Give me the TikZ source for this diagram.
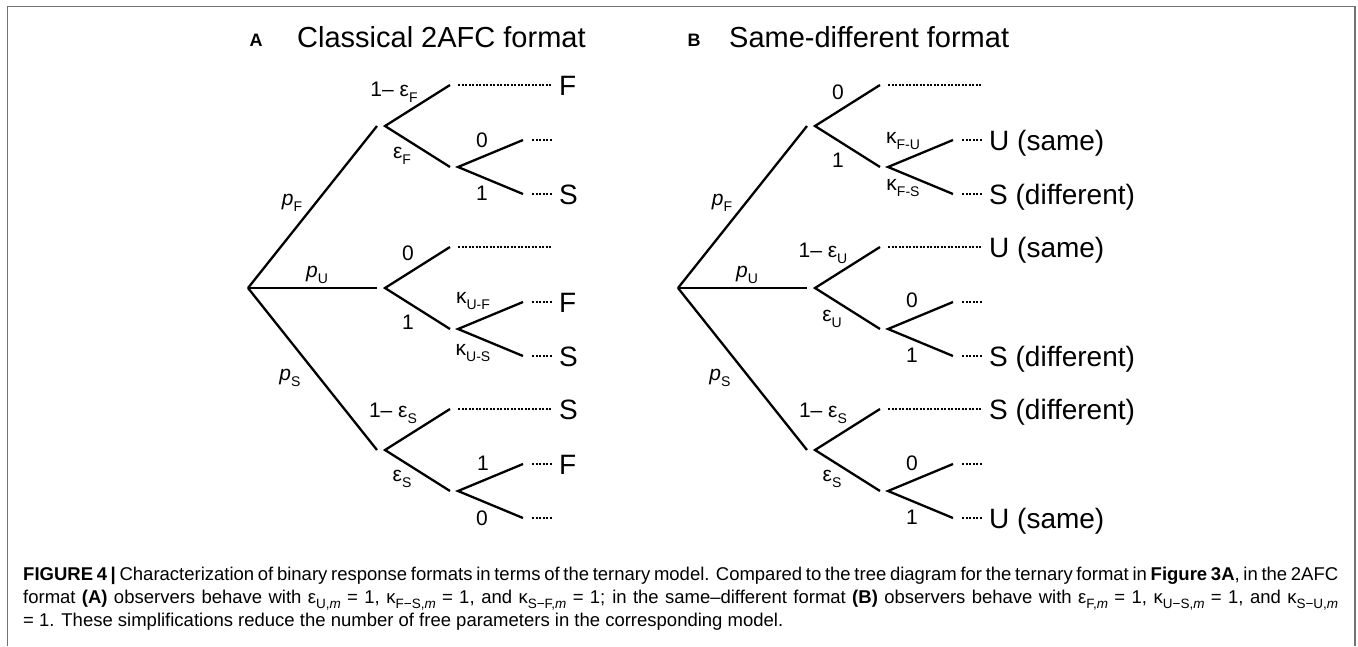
\documentclass[tikz,border=0pt]{standalone}
\usepackage{fontspec}
\setmainfont{Liberation Sans}
\newfontfamily\capfont{Liberation Sans}
\usetikzlibrary{calc}
\newcommand{\tsub}[1]{\raisebox{-0.3em}{\fontsize{14}{14}\selectfont #1}}
\newcommand{\csub}[1]{\raisebox{-0.3em}{\fontsize{13.5}{13.5}\selectfont #1}}
\tikzset{
  br/.style={line width=2.3pt},
  dotline/.style={line width=1.3pt, dash pattern=on 2pt off 1.5pt},
  leaf/.style={anchor=base west, inner sep=0pt, font=\fontsize{28}{28}\selectfont},
  elab/.style={inner sep=0pt, font=\fontsize{21}{21}\selectfont},
  ttl/.style={anchor=base west, inner sep=0pt, font=\fontsize{29}{29}\selectfont},
  pan/.style={inner sep=0pt, font=\bfseries\fontsize{18}{18}\selectfont},
  framestyle/.style={draw=black!55, line width=1.5pt},
  captxt/.style={anchor=base west, inner sep=0pt, font=\capfont\fontsize{18.5}{18.5}\selectfont},
}
\newcommand{\skel}[2]{%
  \coordinate (#1R) at (248+#2,288);
  \foreach \n/\yy in {T/126,M/288,B/450}{
    \coordinate (#1\n e) at (377+#2,\yy);
    \coordinate (#1\n f) at (385+#2,\yy);
    \coordinate (#1\n u) at (450+#2,\yy-41);
    \coordinate (#1\n d) at (450+#2,\yy+41);
    \coordinate (#1\n s) at (458+#2,\yy+41);
    \coordinate (#1\n su) at (523+#2,\yy+14);
    \coordinate (#1\n sd) at (523+#2,\yy+68);
    \coordinate (#1\n lua) at (458+#2,\yy-41);
    \coordinate (#1\n lub) at (552+#2,\yy-41);
    \coordinate (#1\n lsa) at (532+#2,\yy+14);
    \coordinate (#1\n lsb) at (552+#2,\yy+14);
    \coordinate (#1\n lda) at (532+#2,\yy+68);
    \coordinate (#1\n ldb) at (552+#2,\yy+68);
    \draw[br] (#1R) -- (#1\n e);
    \draw[br] (#1\n u) -- (#1\n f) -- (#1\n d);
    \draw[br] (#1\n su) -- (#1\n s) -- (#1\n sd);
    \draw[dotline] (#1\n lua) -- (#1\n lub);
    \draw[dotline] (#1\n lsa) -- (#1\n lsb);
    \draw[dotline] (#1\n lda) -- (#1\n ldb);
  }%
}
\begin{document}
\begin{tikzpicture}[x=1pt,y=-1pt]
\useasboundingbox (0,0) rectangle (1358,646);
\fill[white] (0,0) rectangle (1358,646);
\draw[framestyle] (7.5,646) -- (7.5,6.5) -- (1355,6.5) -- (1355,646);

% titles
\node[pan] (panA) at (256,40) {A};
\node[ttl] (ttlA) at (297,47) {Classical 2AFC format};
\node[pan] (panB) at (694,40) {B};
\node[ttl] (ttlB) at (729,47) {Same-different format};

% skeletons
\skel{a}{0}
\skel{b}{430}

% panel A labels
\node[elab] (apF) at (292,203) {\textit{p}\tsub{F}};
\node[elab] (apU) at (317,275) {\textit{p}\tsub{U}};
\node[elab] (apS) at (290,378) {\textit{p}\tsub{S}};
\node[elab] (aTl1) at (394,92) {1– ε\tsub{F}};
\node[elab] (aTl2) at (402,156) {ε\tsub{F}};
\node[elab] (aTl3) at (482,140) {0};
\node[elab] (aTl4) at (482,193) {1};
\node[elab] (aMl1) at (408,253) {0};
\node[elab] (aMl2) at (408,322) {1};
\node[elab] (aMl3) at (473,301) {κ\tsub{U-F}};
\node[elab] (aMl4) at (473,353) {κ\tsub{U-S}};
\node[elab] (aBl1) at (393,413) {1– ε\tsub{S}};
\node[elab] (aBl2) at (402,479) {ε\tsub{S}};
\node[elab] (aBl3) at (483,463) {1};
\node[elab] (aBl4) at (482,518) {0};
\node[leaf] (aTF) at (559,95) {F};
\node[leaf] (aTS) at (559,204) {S};
\node[leaf] (aMF) at (559,312) {F};
\node[leaf] (aMS) at (559,366) {S};
\node[leaf] (aBS) at (559,419) {S};
\node[leaf] (aBF) at (559,474) {F};

% panel B labels
\node[elab] (bpF) at (722,203) {\textit{p}\tsub{F}};
\node[elab] (bpU) at (747,275) {\textit{p}\tsub{U}};
\node[elab] (bpS) at (720,378) {\textit{p}\tsub{S}};
\node[elab] (bTl1) at (838,92) {0};
\node[elab] (bTl2) at (838,160) {1};
\node[elab] (bTl3) at (903,141) {κ\tsub{F-U}};
\node[elab] (bTl4) at (903,188) {κ\tsub{F-S}};
\node[elab] (bMl1) at (823,253) {1– ε\tsub{U}};
\node[elab] (bMl2) at (832,319) {ε\tsub{U}};
\node[elab] (bMl3) at (912,300) {0};
\node[elab] (bMl4) at (912,355) {1};
\node[elab] (bBl1) at (823,413) {1– ε\tsub{S}};
\node[elab] (bBl2) at (832,479) {ε\tsub{S}};
\node[elab] (bBl3) at (912,463) {0};
\node[elab] (bBl4) at (912,517) {1};
\node[leaf] (bTU) at (989,150) {U (same)};
\node[leaf] (bTS) at (989,204) {S (different)};
\node[leaf] (bMU) at (989,257) {U (same)};
\node[leaf] (bMS) at (989,366) {S (different)};
\node[leaf] (bBS) at (989,419) {S (different)};
\node[leaf] (bBU) at (989,528) {U (same)};

% caption
\node[captxt] (cap1) at (23,580) {\makebox[1315pt][s]{\textbf{FIGURE 4 |} Characterization of binary response formats in terms of the ternary model. Compared to the tree diagram for the ternary format in \textbf{Figure 3A}, in the 2AFC}};
\node[captxt] (cap2) at (23,603) {\makebox[1315pt][s]{format \textbf{(A)} observers behave with ε\csub{U,\textit{m}} = 1, κ\csub{F−S,\textit{m}} = 1, and κ\csub{S−F,\textit{m}} = 1; in the same–different format \textbf{(B)} observers behave with ε\csub{F,\textit{m}} = 1, κ\csub{U−S,\textit{m}} = 1, and κ\csub{S−U,\textit{m}}}};
\node[captxt] (cap3) at (23,626) {= 1. These simplifications reduce the number of free parameters in the corresponding model.};
\end{tikzpicture}
\end{document}
